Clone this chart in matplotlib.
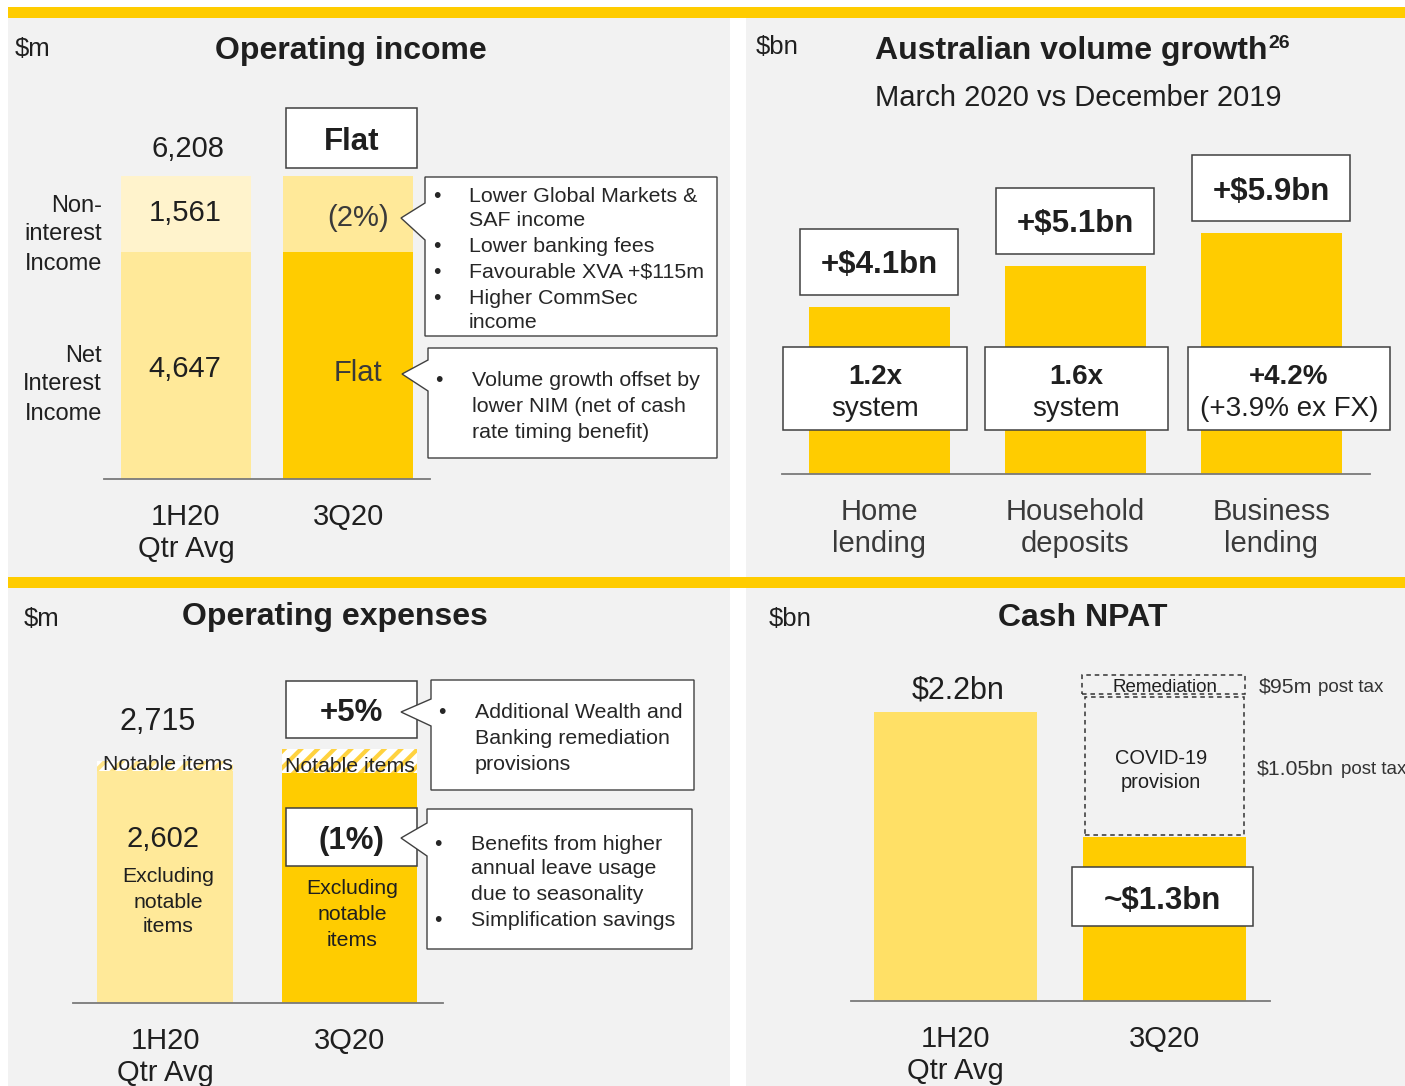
import matplotlib
matplotlib.use('Agg')
import matplotlib.pyplot as plt
from matplotlib.patches import Rectangle, Polygon
import numpy as np

plt.rcParams['font.family'] = ['Liberation Sans', 'DejaVu Sans']
plt.rcParams['hatch.linewidth'] = 3.0

# ---------------- data ----------------
inc_periods = ['1H20\nQtr Avg', '3Q20']
inc_nii = [4647, 4660]
inc_nonint = [1561, 1548]

vol_categories = ['Home\nlending', 'Household\ndeposits', 'Business\nlending']
vol_growth_bn = [4.1, 5.1, 5.9]
vol_top_labels = ['+$4.1bn', '+$5.1bn', '+$5.9bn']
vol_rel_bold = ['1.2x', '1.6x', '+4.2%']
vol_rel_sub = ['system', 'system', '(+3.9% ex FX)']

exp_periods = ['1H20\nQtr Avg', '3Q20']
exp_excl = [2602, 2576]
exp_notable = [113, 275]

npat_periods = ['1H20\nQtr Avg', '3Q20']
npat_bn = [2.2, 1.25]
npat_covid_bn = 1.05
npat_remed_box_bn = 0.15

# ---------------- styles ----------------
W, H = 1405, 1086
C_GOLD = '#FFCC00'
C_LIGHT = '#FFE999'
C_PALE = '#FFF3CC'
C_MID = '#FFE066'
C_BG = '#F2F2F2'
C_EDGE = '#404040'
C_TXT = '#1f1f1f'
C_TXT2 = '#3a3a3a'

fig = plt.figure(figsize=(W / 100, H / 100), dpi=100)
fig.patch.set_facecolor('white')

bg = fig.add_axes([0, 0, 1, 1], zorder=0)
bg.set_xlim(0, W); bg.set_ylim(H, 0); bg.axis('off')
ov = fig.add_axes([0, 0, 1, 1], zorder=5)
ov.set_xlim(0, W); ov.set_ylim(H, 0); ov.axis('off')

for (x, y, w, h, c) in [(8, 18, 722, 559, C_BG), (746, 18, 659, 559, C_BG),
                        (8, 588, 722, 498, C_BG), (746, 588, 659, 498, C_BG),
                        (8, 7, 1397, 11, C_GOLD), (8, 577, 1397, 11, C_GOLD)]:
    bg.add_patch(Rectangle((x, y), w, h, fc=c, ec='none'))


def chart_ax(x0, x1, base, xlim, top_px, top_val, labcolor=C_TXT):
    ax = fig.add_axes([x0 / W, (H - base) / H, (x1 - x0) / W, (base - top_px) / H], zorder=2)
    ax.set_xlim(*xlim)
    ax.set_ylim(0, top_val)
    ax.patch.set_visible(False)
    for s in ['top', 'right', 'left']:
        ax.spines[s].set_visible(False)
    ax.spines['bottom'].set_color('#7a7a7a')
    ax.spines['bottom'].set_linewidth(1.3)
    ax.set_yticks([])
    ax.tick_params(axis='x', length=0, pad=17.5, labelsize=21, labelcolor=labcolor)
    return ax


def fix_ticks(ax):
    for lbl in ax.get_xticklabels():
        lbl.set_linespacing(1.15)


def px(ax, x, y):
    dx, dy = ax.transData.transform((x, y))
    return dx, H - dy


def txt(x, y, s, size=21, weight='normal', ha='center', va='center_baseline', color=C_TXT, **kw):
    return ov.text(x, y, s, fontsize=size, fontweight=weight, ha=ha, va=va, color=color, **kw)


def box(x0, y0, x1, y1, lw=1.1):
    ov.add_patch(Rectangle((x0, y0), x1 - x0, y1 - y0, fc='white', ec=C_EDGE, lw=lw, zorder=3))


def callout(x0, y0, x1, y1, tip, j0, j1):
    pts = [(x0, y0), (x1, y0), (x1, y1), (x0, y1), (x0, j1), tip, (x0, j0)]
    ov.add_patch(Polygon(pts, closed=True, fc='white', ec=C_EDGE, lw=1.0, zorder=3))


def lines(x, ys, strs, size=15.4, color='#262626', ha='left'):
    for y, s in zip(ys, strs):
        txt(x, y, s, size=size, color=color, ha=ha, zorder=4)


def bullets(x, ys, size=15.4):
    for y in ys:
        txt(x, y, '•', size=size, color='#262626', zorder=4)


# ================= Panel 1: Operating income =================
txt(15, 47, '$m', size=18.5, ha='left')
txt(351, 47, 'Operating income', size=23, weight='bold')
ax1 = chart_ax(104, 430, 479, (-0.506, 1.506), 176, 6208)
x1 = np.arange(len(inc_periods))
ax1.bar(x1, inc_nii, width=0.80, color=[C_LIGHT, C_GOLD], lw=0)
ax1.bar(x1, inc_nonint, bottom=inc_nii, width=0.80, color=[C_PALE, C_LIGHT], lw=0)
ax1.set_xticks(x1, inc_periods)
fix_ticks(ax1)

tot1 = [a + b for a, b in zip(inc_nii, inc_nonint)]
_, t0 = px(ax1, 0, tot1[0])
txt(188, t0 - 30, f'{tot1[0]:,}')
txt(185, 210, f'{inc_nonint[0]:,}')
txt(185, 366, f'{inc_nii[0]:,}')
txt(358, 215, '(2%)', color=C_TXT2)
txt(358, 370, 'Flat', color=C_TXT2)
_, t1 = px(ax1, 1, tot1[1])
box(286, t1 - 68, 417, t1 - 8)
txt(351.5, t1 - 38, 'Flat', size=22.5, weight='bold', zorder=4)

for y, s in zip([203, 232, 261], ['Non-', 'interest', 'Income']):
    txt(102, y, s, size=17, ha='right')
for y, s in zip([353, 382, 411], ['Net', 'Interest', 'Income']):
    txt(102, y, s, size=17, ha='right')

callout(425, 177, 717, 336, (401, 218), 203, 240)
bullets(437, [194, 245, 270, 296])
lines(469, [194, 219, 245, 270, 296, 321],
      ['Lower Global Markets &', 'SAF income', 'Lower banking fees',
       'Favourable XVA +$115m', 'Higher CommSec', 'income'])
callout(428, 348, 717, 458, (402, 374), 360, 391)
bullets(439, [379])
lines(472, [379, 405, 431], ['Volume growth offset by', 'lower NIM (net of cash',
                             'rate timing benefit)'])

# ================= Panel 2: Australian volume growth =================
txt(756, 45, '$bn', size=18.5, ha='left')
t = txt(875, 48, 'Australian volume growth', size=23, weight='bold', ha='left')
txt(1268, 42, '26', size=14, weight='bold', ha='left')
txt(875, 95, 'March 2020 vs December 2019', size=21, ha='left')
ax2 = chart_ax(782, 1370, 474, (-0.497, 2.503), 233.3, 5.9, labcolor=C_TXT2)
x2 = np.arange(len(vol_categories))
ax2.bar(x2, vol_growth_bn, width=0.72, color=C_GOLD, lw=0)
ax2.set_xticks(x2, vol_categories)
fix_ticks(ax2)

inner = [(783, 967), (985, 1168), (1188, 1390)]
for i, v in enumerate(vol_growth_bn):
    cx, ty = px(ax2, i, v)
    box(cx - 79, ty - 78, cx + 79, ty - 12)
    txt(cx, ty - 45, vol_top_labels[i], size=22.5, weight='bold', zorder=4)
    a, b = inner[i]
    box(a, 347, b, 430)
    txt((a + b) / 2, 374, vol_rel_bold[i], size=20, weight='bold', zorder=4)
    txt((a + b) / 2, 406, vol_rel_sub[i], size=20, zorder=4)

# ================= Panel 3: Operating expenses =================
txt(24, 616, '$m', size=18.5, ha='left')
txt(334.5, 614, 'Operating expenses', size=23, weight='bold')
exp_tot = [a + b for a, b in zip(exp_excl, exp_notable)]
ax3 = chart_ax(73, 443, 1003, (-0.499, 1.507), 748.7, max(exp_tot))
x3 = np.arange(len(exp_periods))
ax3.bar(x3, exp_excl, width=0.737, color=[C_LIGHT, C_GOLD], lw=0)
ax3.bar(x3, exp_notable, bottom=exp_excl, width=0.737, color='white',
        edgecolor=['#FFE58A', '#FFD23F'], hatch='//', lw=0)
ax3.set_xticks(x3, exp_periods)
fix_ticks(ax3)

_, e0 = px(ax3, 0, exp_tot[0])
txt(158, e0 - 42, f'{exp_tot[0]:,}', size=22)
txt(168, 762, 'Notable items', size=15.3, color='#262626')
txt(163, 836, f'{exp_excl[0]:,}')
lines(168, [874, 900, 925], ['Excluding', 'notable', 'items'], size=15.3, color=C_TXT, ha='center')
_, e1 = px(ax3, 1, exp_tot[1])
box(286, e1 - 68, 417, e1 - 11)
txt(351.5, e1 - 39, '+5%', size=22.5, weight='bold', zorder=4)
txt(350, 764, 'Notable items', size=15.3, color='#262626')
box(286, 808, 417, 866)
txt(351.5, 838, '(1%)', size=22.5, weight='bold', zorder=4)
lines(352, [887, 912, 938], ['Excluding', 'notable', 'items'], size=15.3, color=C_TXT, ha='center')

callout(431, 680, 694, 790, (401, 712), 699, 726)
bullets(442, [711])
lines(475, [711, 737, 762], ['Additional Wealth and', 'Banking remediation', 'provisions'])
callout(427, 809, 692, 949, (401, 838), 823, 856)
bullets(438, [842, 918])
lines(471, [842, 867, 893, 918], ['Benefits from higher', 'annual leave usage',
                                  'due to seasonality', 'Simplification savings'])

# ================= Panel 4: Cash NPAT =================
txt(769, 616, '$bn', size=18.5, ha='left')
txt(1083, 614, 'Cash NPAT', size=23, weight='bold')
ax4 = chart_ax(851, 1270, 1001, (-0.5, 1.505), 712, npat_bn[0])
x4 = np.arange(len(npat_periods))
ax4.bar(x4, npat_bn, width=0.78, color=[C_MID, C_GOLD], lw=0)
cov_bottom = npat_bn[1] + 0.015
ax4.bar([1.0], [npat_covid_bn], bottom=[cov_bottom], width=0.765, fill=False,
        edgecolor='#333333', lw=1.1, ls=(0, (3, 2.5)), clip_on=False)
ax4.bar([0.995], [npat_remed_box_bn], bottom=[cov_bottom + npat_covid_bn + 0.02], width=0.78,
        fill=False, edgecolor='#333333', lw=1.1, ls=(0, (3, 2.5)), clip_on=False)
ax4.set_xticks(x4, npat_periods)
fix_ticks(ax4)

_, n0 = px(ax4, 0, npat_bn[0])
txt(958, n0 - 25, f'${npat_bn[0]:.1f}bn', size=22)
_, rtop = px(ax4, 1, cov_bottom + npat_covid_bn + 0.02 + npat_remed_box_bn)
_, rbot = px(ax4, 1, cov_bottom + npat_covid_bn + 0.02)
txt(1165, (rtop + rbot) / 2 + 1, 'Remediation', size=13.5, color=C_TXT)
txt(1161, 756, 'COVID-19', size=14.4)
txt(1161, 780, 'provision', size=14.4)
txt(1259, 685, '$95m', size=15.3, ha='left', color='#333333')
txt(1318, 686, 'post tax', size=13.5, ha='left', color='#333333')
txt(1257, 767, '$1.05bn', size=15.3, ha='left', color='#333333')
txt(1341, 768, 'post tax', size=13.5, ha='left', color='#333333')
box(1072, 867, 1253, 926)
txt(1162.5, 897, '~$1.3bn', size=22.5, weight='bold', zorder=4)

fig.savefig('out.png', dpi=100, facecolor='white')
